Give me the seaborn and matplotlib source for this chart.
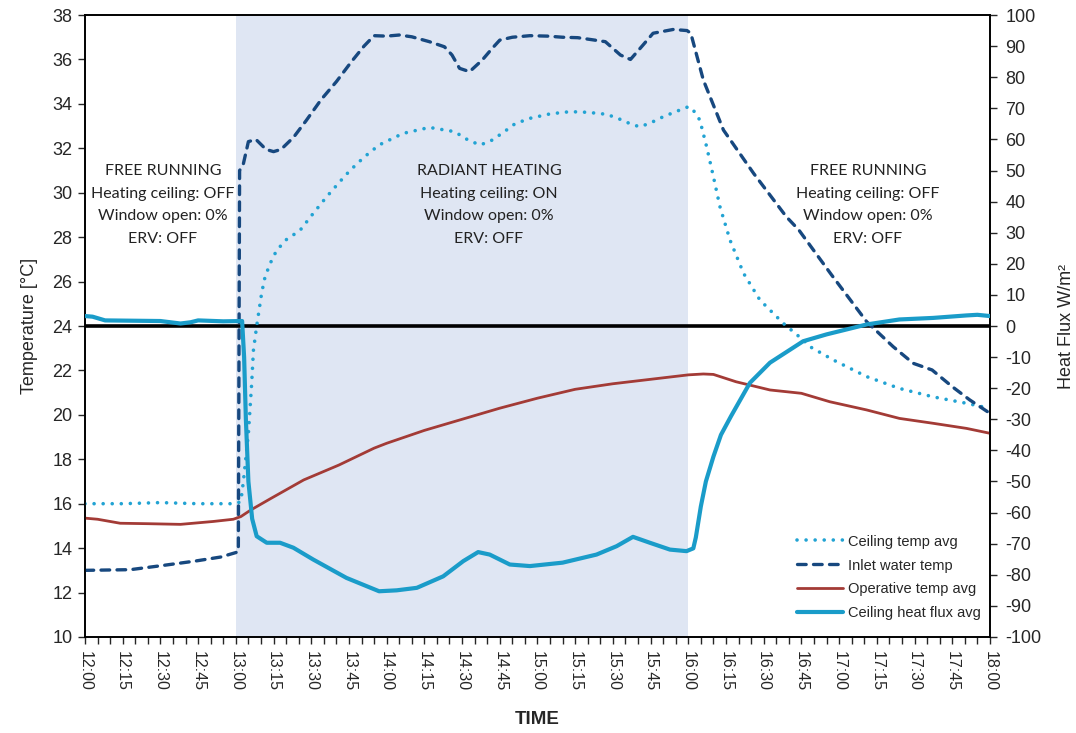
import numpy as np
import pandas as pd
import matplotlib
matplotlib.use("Agg")
import matplotlib.pyplot as plt
import seaborn as sns

# Time axis: minutes after 12:00
tick_minutes = list(range(0, 361, 15))
tick_labels = ["12:00", "12:15", "12:30", "12:45", "13:00", "13:15", "13:30", "13:45",
               "14:00", "14:15", "14:30", "14:45", "15:00", "15:15", "15:30", "15:45",
               "16:00", "16:15", "16:30", "16:45", "17:00", "17:15", "17:30", "17:45", "18:00"]

# Inlet water temperature [°C]
inlet_t = [0, 18, 31, 44, 54, 60, 61, 61.5, 63, 65, 68, 72, 75, 78, 83, 88, 94, 100, 106,
           111, 115, 120, 125, 130, 137, 143, 146, 149, 153, 158, 162, 165, 170, 177, 184,
           190, 196, 201, 207, 213, 217, 222, 226, 234, 239.5, 241, 246, 254, 266, 279,
           284, 297, 311, 321.5, 329.5, 337, 345, 352, 360]
inlet_v = [13.0, 13.03, 13.22, 13.42, 13.6, 13.8, 13.85, 31.0, 31.3, 32.3, 32.4, 31.95,
           31.85, 31.95, 32.5, 33.25, 34.2, 35.0, 35.9, 36.6, 37.07, 37.05, 37.1, 37.02,
           36.8, 36.57, 36.2, 35.6, 35.45, 35.97, 36.5, 36.87, 37.0, 37.07, 37.05, 37.0,
           36.98, 36.9, 36.8, 36.2, 36.0, 36.65, 37.18, 37.35, 37.3, 37.18, 35.07, 32.82,
           30.87, 28.92, 28.32, 26.3, 24.19, 23.07, 22.32, 22.02, 21.27, 20.67, 20.07]

# Ceiling surface temperature, average [°C]
ceiling_t = [0, 15, 30, 45, 60, 62, 63, 65, 66.3, 67, 68.3, 70.3, 71.6, 73.6, 76.2, 80.2,
             85.5, 90.8, 96, 101.4, 105.4, 111, 117, 126.5, 137, 147, 152, 157, 161, 166,
             171, 177, 185, 193, 200, 207.6, 213, 218, 221, 226, 230, 235, 240, 241.5,
             244.6, 247.3, 250, 252.6, 256.6, 262, 268.5, 277.8, 285.7, 288.4, 297.7, 311,
             324, 337.4, 350.7, 360]
ceiling_v = [16.0, 16.0, 16.05, 16.0, 16.0, 16.1, 17.0, 19.16, 21.4, 22.9, 24.0, 25.5,
             26.2, 26.8, 27.4, 27.9, 28.3, 29.07, 29.8, 30.5, 31.0, 31.6, 32.15, 32.67,
             32.94, 32.75, 32.4, 32.15, 32.3, 32.68, 33.1, 33.35, 33.55, 33.65, 33.62,
             33.53, 33.3, 33.05, 32.97, 33.2, 33.42, 33.65, 33.87, 33.8, 33.27, 32.07,
             30.72, 29.37, 27.87, 26.37, 25.17, 24.12, 23.37, 23.07, 22.47, 21.72, 21.19,
             20.81, 20.52, 20.29]

# Operative temperature, average [°C]
operative_t = [0, 5, 14, 25, 38, 51, 59, 62, 66, 74, 87, 101, 115, 120, 135, 150, 165,
               180, 195, 210, 225, 240, 246, 250, 259, 272.5, 285, 296.3, 311, 324, 337.4,
               350.7, 360]
operative_v = [15.35, 15.3, 15.12, 15.1, 15.07, 15.2, 15.3, 15.42, 15.72, 16.24, 17.07,
               17.74, 18.5, 18.72, 19.3, 19.8, 20.3, 20.75, 21.15, 21.4, 21.6, 21.8, 21.84,
               21.82, 21.49, 21.12, 20.97, 20.59, 20.22, 19.84, 19.62, 19.39, 19.17]

# Ceiling heat flux, average [W/m²]
flux_t = [0, 3, 8, 30, 38, 42, 45, 55, 62.5, 63.3, 64, 65, 66.5, 68.3, 70, 72.3, 77.6,
          82.9, 90.8, 104, 117, 124, 132, 142.5, 150.5, 156.4, 161, 169, 177, 190, 203.5,
          211.5, 218, 224.7, 232.7, 239.3, 242, 243, 245, 247, 250, 253, 257, 264.5,
          272.5, 285.7, 295, 311, 324, 337.4, 350.7, 355, 360]
flux_v = [3.2, 3.0, 1.8, 1.6, 0.8, 1.2, 1.8, 1.5, 1.6, -10, -30, -50, -62, -67.6, -68.5,
          -69.7, -69.7, -71.3, -75.1, -81, -85.3, -85.0, -84.2, -80.5, -75.6, -72.7, -73.5,
          -76.7, -77.2, -76.1, -73.5, -70.8, -67.8, -69.7, -71.9, -72.4, -71.5, -68, -58,
          -50, -42, -35, -29, -18.3, -11.8, -4.9, -2.7, 0.5, 2.1, 2.6, 3.4, 3.6, 3.2]

phase_text = [
    (31, "FREE RUNNING\nHeating ceiling: OFF\nWindow open: 0%\nERV: OFF"),
    (160.7, "RADIANT HEATING\nHeating ceiling: ON\nWindow open: 0%\nERV: OFF"),
    (311.5, "FREE RUNNING\nHeating ceiling: OFF\nWindow open: 0%\nERV: OFF"),
]

c_ceiling = "#22a3d3"
c_inlet = "#17487f"
c_oper = "#a33b36"
c_flux = "#1a9cc9"

sns.set_style("white")
plt.rcParams["font.family"] = ["Liberation Sans", "DejaVu Sans"]
plt.rcParams["axes.unicode_minus"] = False

fig = plt.figure(figsize=(10.76, 7.33), dpi=100)
ax = fig.add_axes([0.079, 0.131, 0.841, 0.8485])
ax2 = ax.twinx()

ax.axvspan(60, 240, color="#dfe6f3", lw=0, zorder=0)
ax.axhline(24, color="black", lw=2.6, zorder=2)

sns.lineplot(x=ceiling_t, y=ceiling_v, ax=ax, color=c_ceiling, lw=2.6,
             linestyle=(0, (0.01, 2.5)), dash_capstyle="round", label="Ceiling temp avg",
             legend=False, zorder=3)
sns.lineplot(x=inlet_t, y=inlet_v, ax=ax, color=c_inlet, lw=2.4,
             linestyle=(0, (2.6, 2.2)), dash_capstyle="round", label="Inlet water temp",
             legend=False, zorder=3)
sns.lineplot(x=operative_t, y=operative_v, ax=ax, color=c_oper, lw=2.0,
             label="Operative temp avg", legend=False, zorder=3)
sns.lineplot(x=flux_t, y=flux_v, ax=ax2, color=c_flux, lw=3.0,
             label="Ceiling heat flux avg", legend=False, zorder=3)

ax.set_xlim(0, 360)
ax.set_ylim(10, 38)
ax2.set_ylim(-100, 100)
ax.set_yticks(np.arange(10, 39, 2))
ax2.set_yticks(np.arange(-100, 101, 10))
ax.set_xticks(tick_minutes)
ax.set_xticklabels(tick_labels, rotation=-90, fontsize=11.5)
ax.set_xticks(np.arange(0, 361, 5), minor=True)

ax.tick_params(axis="y", labelsize=13, length=5, width=1, direction="out", left=True, pad=4)
ax.tick_params(axis="x", which="both", length=5, width=1, direction="out", bottom=True, pad=5)
ax2.tick_params(axis="y", labelsize=13, length=5, width=1, direction="out", right=True, pad=6)

for a in (ax, ax2):
    for s in a.spines.values():
        s.set_color("black")
        s.set_linewidth(1.2)

ax.set_ylabel("Temperature [°C]", fontsize=13, labelpad=10)
ax2.set_ylabel("Heat Flux W/m²", fontsize=13, labelpad=12)
ax.set_xlabel("TIME", fontsize=13.5, fontweight="bold", labelpad=14)

for xm, txt in phase_text:
    ax.text(xm, 31.3, txt, ha="center", va="top", fontsize=11.5, linespacing=1.8,
            family=["Lato", "DejaVu Sans"], color="#222222", zorder=4)

h1, l1 = ax.get_legend_handles_labels()
h2, l2 = ax2.get_legend_handles_labels()
ax2.legend(h1 + h2, l1 + l2, loc="upper left", bbox_to_anchor=(0.78, 0.174),
           frameon=False, fontsize=10.5, handlelength=3.2, handletextpad=0.3,
           labelspacing=0.68, borderaxespad=0)

fig.savefig("out.png", dpi=100)
